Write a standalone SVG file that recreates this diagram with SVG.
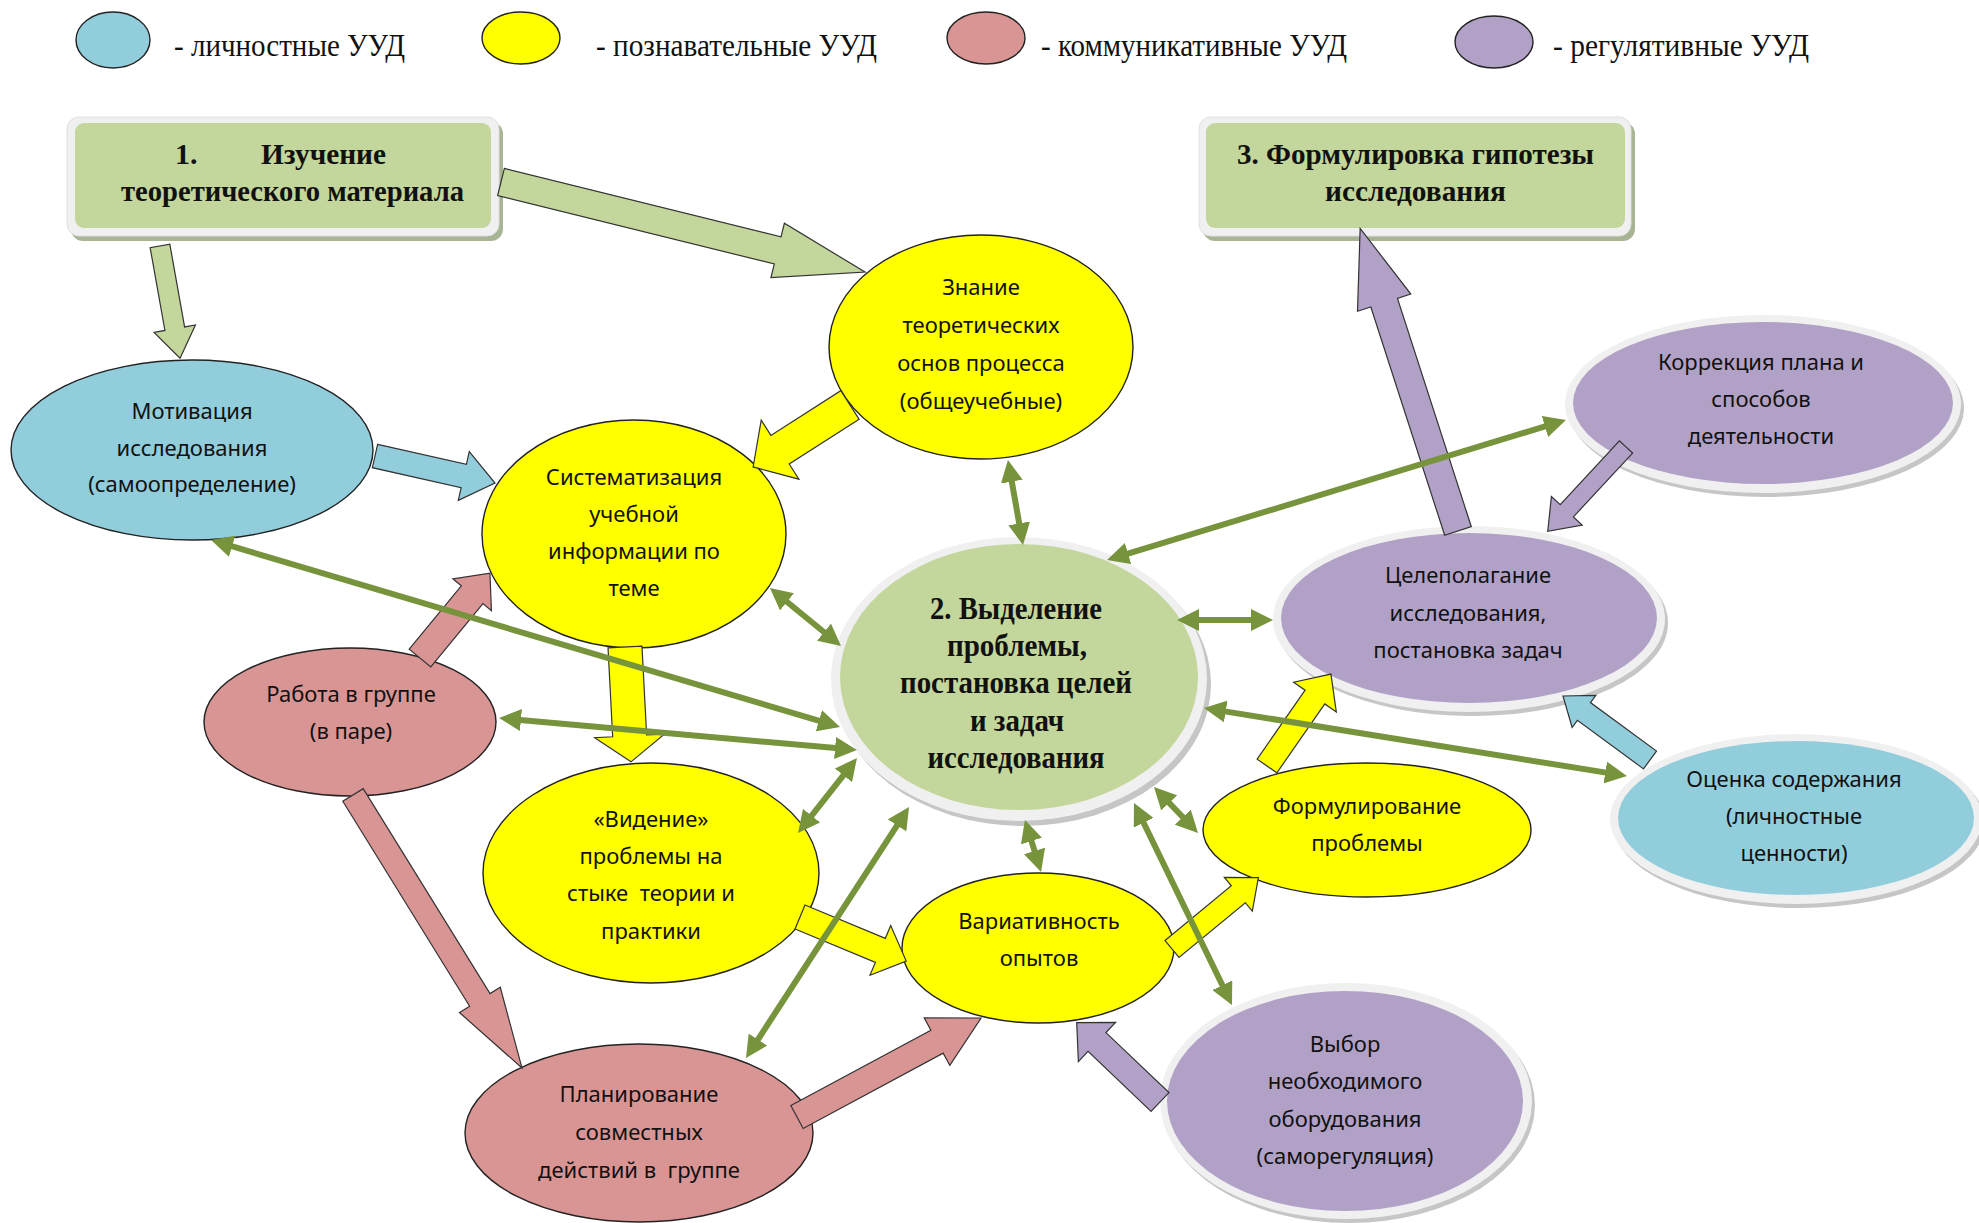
<svg xmlns="http://www.w3.org/2000/svg" width="1979" height="1223" viewBox="0 0 1979 1223">
<defs>
<style>
.n{font-family:"Noto Sans","Open Sans",sans-serif;font-size:22px;fill:#111;text-anchor:middle}
.b{font-family:"Liberation Serif","Times New Roman",serif;font-weight:bold;font-size:31px;fill:#111;text-anchor:middle}
.bs{font-family:"Liberation Serif","Times New Roman",serif;font-weight:bold;font-size:30px;fill:#111}
.lg{font-family:"Liberation Serif","Times New Roman",serif;font-size:32px;fill:#111}
.ol{stroke:#222;stroke-width:1.4}
.ba{stroke:#333;stroke-width:1.2;stroke-linejoin:miter}
.ln{stroke:#77933C;stroke-width:6;fill:none;marker-start:url(#ah);marker-end:url(#ah)}
.ring{fill:#F0F0F0}
.shd{fill:#C6C6C6}
.bl{fill:#92CDDC}.ye{fill:#FFFF00}.pk{fill:#D99594}.pu{fill:#B2A1C7}.gr{fill:#C3D69B}
</style>
<marker id="ah" viewBox="0 0 22 22" refX="12" refY="11" markerWidth="22" markerHeight="22" markerUnits="userSpaceOnUse" orient="auto-start-reverse">
<path d="M0,0 L22,11 L0,22 Z" fill="#77933C"/>
</marker>
</defs>
<rect width="1979" height="1223" fill="#FFFFFF"/>

<g id="legend">
<ellipse class="bl ol" cx="113" cy="40" rx="37" ry="28"/>
<text class="lg" x="174" y="56" textLength="231" lengthAdjust="spacingAndGlyphs">- личностные УУД</text>
<ellipse class="ye ol" cx="521" cy="38" rx="39" ry="26"/>
<text class="lg" x="596" y="56" textLength="281" lengthAdjust="spacingAndGlyphs">- познавательные УУД</text>
<ellipse class="pk ol" cx="986" cy="38" rx="39" ry="26"/>
<text class="lg" x="1041" y="56" textLength="306" lengthAdjust="spacingAndGlyphs">- коммуникативные УУД</text>
<ellipse class="pu ol" cx="1494" cy="42" rx="39" ry="26"/>
<text class="lg" x="1553" y="56" textLength="256" lengthAdjust="spacingAndGlyphs">- регулятивные УУД</text>
</g>

<g id="box1">
<rect x="71" y="122" width="432" height="119" rx="12" fill="#A8B595"/>
<rect x="67" y="117" width="432" height="119" rx="12" fill="#F0F0F0" stroke="#E0E0E0"/>
<rect x="75" y="123" width="416" height="105" rx="9" class="gr"/>
<text class="bs" x="175" y="164">1.</text>
<text class="bs" x="261" y="164" textLength="125" lengthAdjust="spacingAndGlyphs">Изучение</text>
<text class="bs" x="121" y="201" textLength="343" lengthAdjust="spacingAndGlyphs">теоретического материала</text>
</g>

<g id="box3">
<rect x="1203" y="122" width="432" height="119" rx="12" fill="#A8B595"/>
<rect x="1199" y="117" width="432" height="119" rx="12" fill="#F0F0F0" stroke="#E0E0E0"/>
<rect x="1206" y="123" width="419" height="105" rx="9" class="gr"/>
<text class="bs" x="1237" y="164" textLength="357" lengthAdjust="spacingAndGlyphs">3. Формулировка гипотезы</text>
<text class="bs" x="1325" y="201" textLength="181" lengthAdjust="spacingAndGlyphs">исследования</text>
</g>

<g id="znanie">
<ellipse class="ye ol" cx="981" cy="347" rx="152" ry="112"/>
<text class="n" x="981" y="295">Знание</text>
<text class="n" x="981" y="333">теоретических</text>
<text class="n" x="981" y="371">основ процесса</text>
<text class="n" x="981" y="409">(общеучебные)</text>
</g>

<g id="motivacia">
<ellipse class="bl ol" cx="192" cy="450" rx="181" ry="90"/>
<text class="n" x="192" y="419">Мотивация</text>
<text class="n" x="192" y="456">исследования</text>
<text class="n" x="192" y="492">(самоопределение)</text>
</g>

<g id="sistematizacia">
<ellipse class="ye ol" cx="634" cy="534" rx="152" ry="114"/>
<text class="n" x="634" y="485">Систематизация</text>
<text class="n" x="634" y="522">учебной</text>
<text class="n" x="634" y="559">информации по</text>
<text class="n" x="634" y="596">теме</text>
</g>

<g id="main">
<ellipse class="shd" cx="1023" cy="684" rx="188" ry="142"/>
<ellipse class="ring" cx="1019" cy="679" rx="188" ry="142"/>
<ellipse class="gr" cx="1019" cy="677" rx="179" ry="133"/>
<text class="b" x="1016" y="619" textLength="172" lengthAdjust="spacingAndGlyphs">2. Выделение</text>
<text class="b" x="1017" y="656" textLength="140" lengthAdjust="spacingAndGlyphs">проблемы,</text>
<text class="b" x="1016" y="693" textLength="232" lengthAdjust="spacingAndGlyphs">постановка целей</text>
<text class="b" x="1017" y="731" textLength="94" lengthAdjust="spacingAndGlyphs">и задач</text>
<text class="b" x="1016" y="768" textLength="177" lengthAdjust="spacingAndGlyphs">исследования</text>
</g>

<g id="celepolaganie">
<ellipse class="shd" cx="1472" cy="623" rx="196" ry="93"/>
<ellipse class="ring" cx="1469" cy="619" rx="196" ry="93"/>
<ellipse class="pu" cx="1469" cy="618" rx="188" ry="85"/>
<text class="n" x="1468" y="583">Целеполагание</text>
<text class="n" x="1468" y="621">исследования,</text>
<text class="n" x="1468" y="658">постановка задач</text>
</g>

<g id="korrekcia">
<ellipse class="shd" cx="1766" cy="408" rx="198" ry="89"/>
<ellipse class="ring" cx="1763" cy="404" rx="198" ry="89"/>
<ellipse class="pu" cx="1763" cy="403" rx="190" ry="81"/>
<text class="n" x="1761" y="370">Коррекция плана и</text>
<text class="n" x="1761" y="407">способов</text>
<text class="n" x="1761" y="444">деятельности</text>
</g>

<g id="ocenka">
<ellipse class="shd" cx="1799" cy="823" rx="186" ry="85"/>
<ellipse class="ring" cx="1796" cy="819" rx="186" ry="85"/>
<ellipse class="bl" cx="1796" cy="818" rx="178" ry="77"/>
<text class="n" x="1794" y="787">Оценка содержания</text>
<text class="n" x="1794" y="824">(личностные</text>
<text class="n" x="1794" y="861">ценности)</text>
</g>

<g id="rabota">
<ellipse class="pk ol" cx="350" cy="722" rx="146" ry="74"/>
<text class="n" x="351" y="702">Работа в группе</text>
<text class="n" x="351" y="739">(в паре)</text>
</g>

<g id="videnie">
<ellipse class="ye ol" cx="651" cy="873" rx="168" ry="110"/>
<text class="n" x="651" y="827">«Видение»</text>
<text class="n" x="651" y="864">проблемы на</text>
<text class="n" x="651" y="901" xml:space="preserve">стыке  теории и</text>
<text class="n" x="651" y="939">практики</text>
</g>

<g id="formulirovanie">
<ellipse class="ye ol" cx="1367" cy="830" rx="164" ry="67"/>
<text class="n" x="1367" y="814">Формулирование</text>
<text class="n" x="1367" y="851">проблемы</text>
</g>

<g id="variativnost">
<ellipse class="ye ol" cx="1038" cy="948" rx="136" ry="75"/>
<text class="n" x="1039" y="929">Вариативность</text>
<text class="n" x="1039" y="966">опытов</text>
</g>

<g id="planirovanie">
<ellipse class="pk ol" cx="639" cy="1133" rx="174" ry="89"/>
<text class="n" x="639" y="1102">Планирование</text>
<text class="n" x="639" y="1140">совместных</text>
<text class="n" x="639" y="1178" xml:space="preserve">действий в  группе</text>
</g>

<g id="vybor">
<ellipse class="shd" cx="1349" cy="1105" rx="186" ry="118"/>
<ellipse class="ring" cx="1346" cy="1101" rx="186" ry="118"/>
<ellipse class="pu" cx="1345" cy="1101" rx="178" ry="110"/>
<text class="n" x="1345" y="1052">Выбор</text>
<text class="n" x="1345" y="1089">необходимого</text>
<text class="n" x="1345" y="1127">оборудования</text>
<text class="n" x="1345" y="1164">(саморегуляция)</text>
</g>

<g id="connectors">
<g id="block-arrows">
<path class="gr ba" transform="translate(501,182) rotate(13.89)" d="M0,-14H285V-28L375,0L285,28V14H0Z"/>
<path class="gr ba" transform="translate(160,246) rotate(79.88)" d="M0,-10H84V-21L114,0L84,21V10H0Z"/>
<path class="bl ba" transform="translate(375,456) rotate(12.68)" d="M0,-12H91V-25L123,0L91,25V12H0Z"/>
<path class="ye ba" transform="translate(850,405) rotate(147.41)" d="M0,-17H83V-35L115,0L83,35V17H0Z"/>
<path class="pk ba" transform="translate(420,658) rotate(-50.53)" d="M0,-14H82V-25L110,0L82,25V14H0Z"/>
<path class="ye ba" transform="translate(625,647) rotate(87.01)" d="M0,-17H89V-35L115,0L89,35V17H0Z"/>
<path class="pk ba" transform="translate(353,795) rotate(58.24)" d="M0,-12H241V-24L321,0L241,24V12H0Z"/>
<path class="ye ba" transform="translate(800,917) rotate(22.54)" d="M0,-13H87V-27L115,0L87,27V13H0Z"/>
<path class="pk ba" transform="translate(797,1117) rotate(-28.28)" d="M0,-13H159V-27L209,0L159,27V13H0Z"/>
<path class="pu ba" transform="translate(1160,1102) rotate(-136.41)" d="M0,-13H87V-27L115,0L87,27V13H0Z"/>
<path class="ye ba" transform="translate(1172,949) rotate(-39.54)" d="M0,-11H86V-22L112,0L86,22V11H0Z"/>
<path class="ye ba" transform="translate(1267,766) rotate(-55.18)" d="M0,-12H84V-26L112,0L84,26V12H0Z"/>
<path class="pu ba" transform="translate(1458,531) rotate(-107.92)" d="M0,-14H240V-28L318,0L240,28V14H0Z"/>
<path class="pu ba" transform="translate(1626,447) rotate(132.88)" d="M0,-9H87V-21L115,0L87,21V9H0Z"/>
<path class="bl ba" transform="translate(1650,760) rotate(-143.66)" d="M0,-11H82V-20L108,0L82,20V11H0Z"/>
</g>
<g id="links">
<line class="ln" x1="1009.7" y1="469.8" x2="1021.3" y2="535.2"/>
<line class="ln" x1="1116.6" y1="557.1" x2="1556.4" y2="422.9"/>
<line class="ln" x1="1187" y1="620" x2="1263" y2="620"/>
<line class="ln" x1="220.6" y1="542.9" x2="830.4" y2="724.2"/>
<line class="ln" x1="777.7" y1="594.3" x2="833.3" y2="639.7"/>
<line class="ln" x1="509" y1="718.9" x2="847" y2="749.1"/>
<line class="ln" x1="804.2" y1="825.1" x2="850.8" y2="765.9"/>
<line class="ln" x1="751.4" y1="1049.6" x2="903.6" y2="815.4"/>
<line class="ln" x1="1027.9" y1="829.6" x2="1038.1" y2="862.4"/>
<line class="ln" x1="1160.9" y1="794.2" x2="1191.1" y2="825.8"/>
<line class="ln" x1="1138.4" y1="812" x2="1227.6" y2="996"/>
<line class="ln" x1="1213.9" y1="709.6" x2="1617.1" y2="774.4"/>
</g>
</g>
</svg>
